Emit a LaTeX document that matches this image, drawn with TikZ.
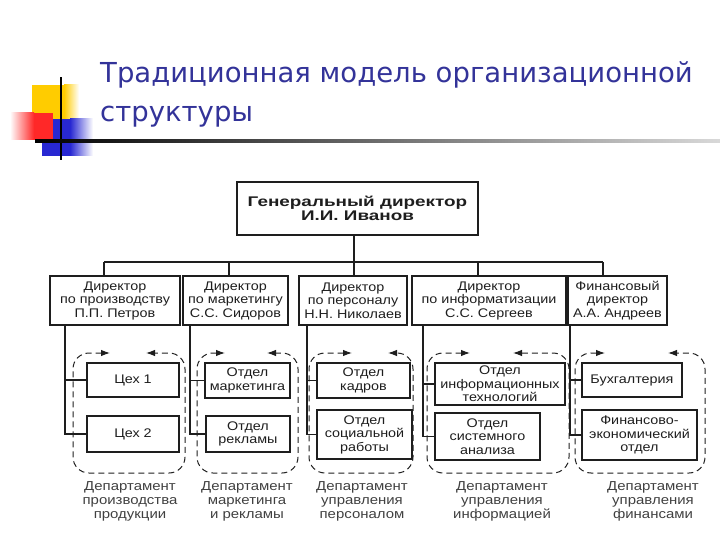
\documentclass[tikz,border=0pt]{standalone}
\usepackage{fontspec}
\setmainfont{Liberation Sans}
\newfontfamily\titlefont{DejaVu Sans}
\newfontfamily\dfont[FakeStretch=1.15]{Liberation Sans}
\newfontfamily\gdfont[FakeStretch=1.35]{Liberation Sans Bold}
\usetikzlibrary{arrows.meta}
\definecolor{titleblue}{RGB}{51,51,153}
\definecolor{ink}{RGB}{30,30,30}
\definecolor{logoyellow}{RGB}{255,204,0}
\definecolor{logored}{RGB}{255,40,40}
\definecolor{logoblue}{RGB}{40,40,210}
\begin{document}
\begin{tikzpicture}[x=1pt,y=-1pt,
  titletext/.style={anchor=base west, inner sep=0pt, text=titleblue, font=\titlefont\fontsize{27.5}{33}\selectfont},
  box/.style={draw=ink, line width=1.1pt, inner sep=0pt, align=center, text=ink,
    font=\dfont\fontsize{12.5}{13.5}\selectfont},
  gdbox/.style={box, font=\gdfont\fontsize{14}{13.5}\selectfont},
  conn/.style={draw=ink, line width=1.1pt},
  dept/.style={draw=ink, line width=1pt, dash pattern=on 6pt off 4pt, rounded corners=16pt,
    {Latex[length=9pt,width=6.5pt]}-{Latex[length=9pt,width=6.5pt]}},
  deptlabel/.style={align=center, inner sep=0pt, text=ink!85, font=\dfont\fontsize{13}{14}\selectfont}]
\useasboundingbox (0,0) rectangle (720,540);
% logo
\fill[logoyellow] (32,85) rectangle (64,120);
\shade[left color=logoyellow, right color=white] (64,85) rectangle (79,120);
\fill[logoblue] (42,119) rectangle (70,156);
\shade[left color=logoblue, right color=white] (70,119) rectangle (93,156);
\shade[left color=white, right color=logored] (10,113) rectangle (34,140);
\fill[logored] (34,113) rectangle (53,140);
\fill[black] (60,77) rectangle (62.3,160);
\shade[left color=black, right color=black!15] (35,140) rectangle (720,142.3);
% title
\node[titletext] (title1) at (100,83) {Традиционная модель организационной};
\node[titletext] (title2) at (100,122) {структуры};
% general director
\node[gdbox, minimum width=241pt, minimum height=53pt] (gd) at (357.5,208.5) {Генеральный директор\\И.И. Иванов};
% directors
\node[box, minimum width=130pt, minimum height=49pt] (r1) at (115,300.5) {Директор\\по производству\\П.П. Петров};
\node[box, minimum width=105pt, minimum height=49pt] (r2) at (235.5,300.5) {Директор\\по маркетингу\\С.С. Сидоров};
\node[box, minimum width=108pt, minimum height=49pt] (r3) at (353,300.5) {Директор\\по персоналу\\Н.Н. Николаев};
\node[box, minimum width=154pt, minimum height=49pt] (r4) at (489,300.5) {Директор\\по информатизации\\С.С. Сергеев};
\node[box, minimum width=99pt, minimum height=49pt] (r5) at (617.5,300.5) {Финансовый\\директор\\А.А. Андреев};
% top connectors
\coordinate (t1) at (104,262);
\coordinate (t2) at (229,262);
\coordinate (t3) at (354,262);
\coordinate (t4) at (478,262);
\coordinate (t5) at (603,262);
\draw[conn] (t1) -- (t5);
\draw[conn] (gd.south -| t3) -- (t3 |- r3.north);
\draw[conn] (t1) -- (t1 |- r1.north);
\draw[conn] (t2) -- (t2 |- r2.north);
\draw[conn] (t4) -- (t4 |- r4.north);
\draw[conn] (t5) -- (t5 |- r5.north);
% sub units
\node[box, minimum width=92pt, minimum height=34pt] (s11) at (133,380) {Цех 1};
\node[box, minimum width=92pt, minimum height=36pt] (s12) at (133,434) {Цех 2};
\node[box, minimum width=85pt, minimum height=35pt] (s21) at (247.5,380.5) {Отдел\\маркетинга};
\node[box, minimum width=84pt, minimum height=36pt] (s22) at (248,434) {Отдел\\рекламы};
\node[box, minimum width=93pt, minimum height=35pt] (s31) at (363.5,380.5) {Отдел\\кадров};
\node[box, minimum width=95pt, minimum height=49pt] (s32) at (364.5,434.5) {Отдел\\социальной\\работы};
\node[box, minimum width=130pt, minimum height=42pt] (s41) at (500,384) {Отдел\\информационных\\технологий};
\node[box, minimum width=105pt, minimum height=47pt] (s42) at (487.5,436.5) {Отдел\\системного\\анализа};
\node[box, minimum width=100pt, minimum height=34pt] (s51) at (632,380) {Бухгалтерия};
\node[box, minimum width=115pt, minimum height=50pt] (s52) at (639.5,435) {Финансово-\\экономический\\отдел};
% vertical feeders
\coordinate (v1) at (65,325);
\coordinate (v2) at (190,325);
\coordinate (v3) at (307,325);
\coordinate (v4) at (423,325);
\coordinate (v5) at (570,325);
\draw[conn] (v1) |- (s12.west);
\draw[conn] (v1 |- s11.west) -- (s11.west);
\draw[conn] (v2) |- (s22.west);
\draw[conn] (v2 |- s21.west) -- (s21.west);
\draw[conn] (v3) |- (s32.west);
\draw[conn] (v3 |- s31.west) -- (s31.west);
\draw[conn] (v4) |- (s42.west);
\draw[conn] (v4 |- s41.west) -- (s41.west);
\draw[conn] (v5) |- (s52.west);
\draw[conn] (v5 |- s51.west) -- (s51.west);
% department outlines
\draw[dept] (110,353) -- (73,353) -- (73,473) -- (185,473) -- (185,353) -- (146,353);
\draw[dept] (225,353) -- (197,353) -- (197,473) -- (298,473) -- (298,353) -- (267,353);
\draw[dept] (352,353) -- (309,353) -- (309,473) -- (413,473) -- (413,353) -- (388,353);
\draw[dept] (470,353) -- (427,353) -- (427,473) -- (569,473) -- (569,353) -- (513,353);
\draw[dept] (605,353) -- (575,353) -- (575,473) -- (705,473) -- (705,353) -- (668,353);
% department labels
\node[deptlabel] (d1) at (130,501) {Департамент\\производства\\продукции};
\node[deptlabel] (d2) at (247,501) {Департамент\\маркетинга\\и рекламы};
\node[deptlabel] (d3) at (362,501) {Департамент\\управления\\персоналом};
\node[deptlabel] (d4) at (502,501) {Департамент\\управления\\информацией};
\node[deptlabel] (d5) at (653,501) {Департамент\\управления\\финансами};
\end{tikzpicture}
\end{document}
